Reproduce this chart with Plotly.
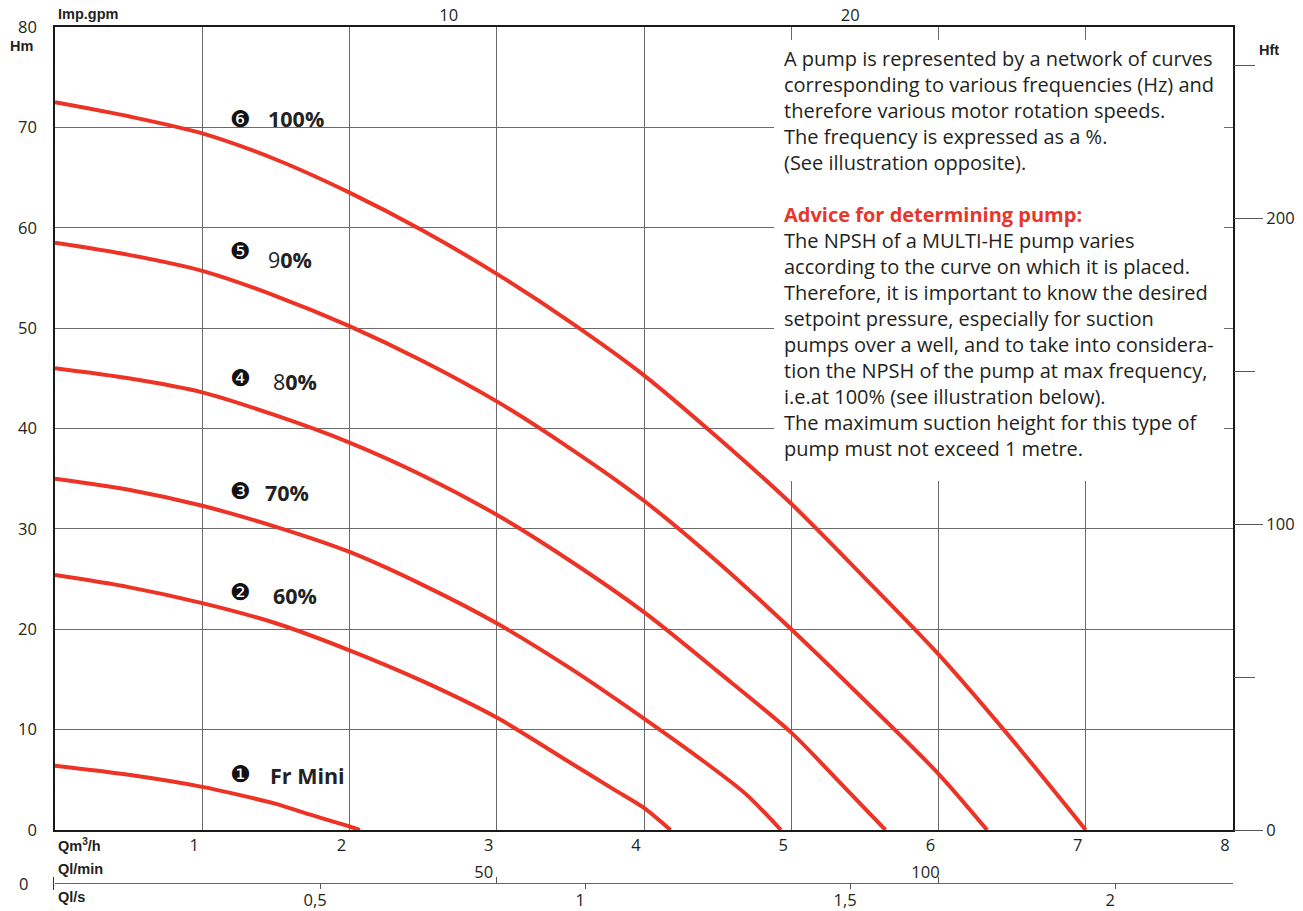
import plotly.graph_objects as go

# ---------------- data (flow in m3/h, head in m) ----------------
flow_fr_mini = [0, 0.5, 1.0, 1.25, 1.5, 1.75, 2.0, 2.07]
head_fr_mini = [6.4, 5.5, 4.3, 3.5, 2.6, 1.45, 0.35, 0.0]

flow_60 = [0, 0.5, 1.0, 1.5, 2.0, 2.5, 3.0, 3.5, 3.8, 4.0, 4.18]
head_60 = [25.4, 24.2, 22.6, 20.6, 17.9, 14.8, 11.2, 6.7, 4.0, 2.2, 0.0]

flow_70 = [0, 0.5, 1.0, 1.5, 2.0, 2.5, 3.0, 3.5, 4.0, 4.4, 4.69, 4.93]
head_70 = [35.0, 33.9, 32.3, 30.2, 27.7, 24.4, 20.6, 16.1, 11.1, 6.9, 3.6, 0.0]

flow_80 = [0, 0.5, 1.0, 1.5, 2.0, 2.5, 3.0, 3.5, 4.0, 4.5, 5.0, 5.3, 5.64]
head_80 = [46.0, 45.0, 43.6, 41.3, 38.6, 35.3, 31.4, 26.8, 21.7, 15.8, 9.7, 5.2, 0.0]

flow_90 = [0, 0.5, 1.0, 1.5, 2.0, 2.5, 3.0, 3.5, 4.0, 4.5, 5.0, 5.5, 6.0, 6.33]
head_90 = [58.5, 57.3, 55.7, 53.2, 50.2, 46.7, 42.7, 38.0, 32.8, 26.7, 20.0, 12.9, 5.6, 0.0]

flow_100 = [0, 0.5, 1.0, 1.5, 2.0, 2.5, 3.0, 3.5, 4.0, 4.5, 5.0, 5.5, 6.0, 6.5, 7.0]
head_100 = [72.5, 71.1, 69.4, 66.8, 63.5, 59.7, 55.4, 50.6, 45.3, 39.1, 32.5, 25.1, 17.5, 9.0, 0.0]

curve_badges = ["\u2776", "\u2777", "\u2778", "\u2779", "\u277a", "\u277b"]
curve_names = ["<b>Fr Mini</b>", "<b>60%</b>", "<b>70%</b>", "8<b>0%</b>", "9<b>0%</b>", "<b>100%</b>"]

q_m3h_ticks = [1, 2, 3, 4, 5, 6, 7, 8]
hm_ticks = [0, 10, 20, 30, 40, 50, 60, 70, 80]
gpm_ticks = [10, 20]
hft_ticks = [0, 100, 200]
hft_minor = [50, 150, 250]
qlmin_ticks = [50, 100]
qls_ticks = [0.5, 1, 1.5, 2]
qls_labels = ["0,5", "1", "1,5", "2"]

text_lines = [
    "A pump is represented by a network of curves",
    "corresponding to various frequencies (Hz) and",
    "therefore various motor rotation speeds.",
    "The frequency is expressed as a %.",
    "(See illustration opposite).",
    "&nbsp;",
    "<span style='color:#E8362A'><b>Advice for determining pump:</b></span>",
    "The NPSH of a MULTI-HE pump varies",
    "according to the curve on which it is placed.",
    "Therefore, it is important to know the desired",
    "setpoint pressure, especially for suction",
    "pumps over a well, and to take into considera-",
    "tion the NPSH of the pump at max frequency,",
    "i.e.at 100% (see illustration below).",
    "The maximum suction height for this type of",
    "pump must not exceed 1 metre.",
]

# unit conversions for the secondary scales
M3H_TO_GPM = 3.66615
M3H_TO_LMIN = 1000 / 60
M3H_TO_LS = 1 / 3.6
M_TO_FT = 3.28084
Q_MAX = 8
H_MAX = 80

# ---------------- layout geometry helpers (screen pixels) ----------------
W, H = 1303, 911
OFF = 8  # page body margin offset of the rendered figure
PL, PR, PT, PB = 55 - OFF, 1233 - OFF, 27 - OFF, 896 - OFF


def fx(px):
    return (px - OFF - PL) / (PR - PL)


def fy(py):
    return (PB - (py - OFF)) / (PB - PT)


RED = "#EC3325"
INK = "#231F20"
GRID = "#6a6a6a"
NUM_FONT = dict(family="Open Sans", size=16.5, color=INK)
LBL_FONT = dict(family="Liberation Sans", size=14.5, color=INK)

fig = go.Figure()

series = [
    (flow_fr_mini, head_fr_mini),
    (flow_60, head_60),
    (flow_70, head_70),
    (flow_80, head_80),
    (flow_90, head_90),
    (flow_100, head_100),
]
for fl, hd in series:
    fig.add_trace(go.Scatter(x=fl, y=hd, mode="lines",
                             line=dict(color=RED, width=4, shape="spline", smoothing=0.8),
                             showlegend=False, hoverinfo="skip"))

# invisible anchors for secondary axes
fig.add_trace(go.Scatter(x=[0], y=[0], xaxis="x2", yaxis="y", mode="markers",
                         marker=dict(opacity=0), showlegend=False, hoverinfo="skip"))
fig.add_trace(go.Scatter(x=[0], y=[0], xaxis="x", yaxis="y2", mode="markers",
                         marker=dict(opacity=0), showlegend=False, hoverinfo="skip"))
fig.add_trace(go.Scatter(x=[0], y=[0], xaxis="x3", yaxis="y", mode="markers",
                         marker=dict(opacity=0), showlegend=False, hoverinfo="skip"))
fig.add_trace(go.Scatter(x=[0], y=[0], xaxis="x4", yaxis="y", mode="markers",
                         marker=dict(opacity=0), showlegend=False, hoverinfo="skip"))

fig.update_layout(
    width=W, height=H,
    margin=dict(l=PL, r=W - PR, t=PT, b=H - PB, autoexpand=False),
    plot_bgcolor="white", paper_bgcolor="white",
    hovermode=False,
    xaxis=dict(range=[0, Q_MAX], domain=[0, 1], anchor="y", automargin=False,
               tickmode="array", tickvals=q_m3h_ticks,
               showgrid=True, gridcolor=GRID, gridwidth=1,
               showline=True, linecolor="#1a1a1a", linewidth=1.6, mirror=True,
               zeroline=False, ticks="", tickfont=NUM_FONT,
               ticklabelshift=-8, ticklabelstandoff=-1),
    yaxis=dict(range=[0, H_MAX], domain=[fy(830), 1], anchor="x", automargin=False,
               tickmode="array", tickvals=hm_ticks,
               showgrid=True, gridcolor=GRID, gridwidth=1,
               showline=True, linecolor="#1a1a1a", linewidth=1.6, mirror=True,
               zeroline=False, ticks="", tickfont=NUM_FONT,
               ticklabelstandoff=13),
    xaxis2=dict(range=[0, Q_MAX * M3H_TO_GPM], overlaying="x", side="top", anchor="y",
                automargin=False,
                tickmode="array", tickvals=gpm_ticks,
                showgrid=False, showline=False, zeroline=False, ticks="",
                tickfont=NUM_FONT, ticklabelshift=-8, ticklabelstandoff=2),
    yaxis2=dict(range=[0, H_MAX * M_TO_FT], overlaying="y", side="right", anchor="x",
                automargin=False,
                tickmode="array", tickvals=hft_ticks,
                ticks="outside", ticklen=29, tickcolor="#555", tickwidth=1,
                minor=dict(tickmode="array", tickvals=hft_minor, ticks="outside",
                           ticklen=21, tickcolor="#555", tickwidth=1, showgrid=False),
                showgrid=False, showline=False, zeroline=False,
                tickfont=NUM_FONT, ticklabelstandoff=0),
    xaxis3=dict(range=[0, Q_MAX * M3H_TO_LMIN], overlaying="x", anchor="free",
                position=fy(883), side="top", automargin=False,
                tickmode="array", tickvals=qlmin_ticks,
                ticks="outside", ticklen=6, tickcolor="#555", tickwidth=1,
                showgrid=False, showline=False, zeroline=False,
                tickfont=NUM_FONT, ticklabelshift=-13, ticklabelstandoff=-8),
    xaxis4=dict(range=[0, Q_MAX * M3H_TO_LS], overlaying="x", anchor="free",
                position=fy(883), side="bottom", automargin=False,
                tickmode="array", tickvals=qls_ticks, ticktext=qls_labels,
                ticks="outside", ticklen=5, tickcolor="#555", tickwidth=1,
                showgrid=False, showline=True, linecolor="#666", linewidth=1.2,
                zeroline=False, tickfont=NUM_FONT,
                ticklabelshift=-5, ticklabelstandoff=-3),
)

# white text panel covering the grid
fig.add_shape(type="rect", xref="paper", yref="paper",
              x0=fx(774), x1=fx(1224), y0=fy(481), y1=fy(40),
              fillcolor="white", line=dict(width=0), layer="above")

# zero tick at start of the flow-unit line
fig.add_shape(type="line", xref="paper", yref="paper",
              x0=fx(53.5), x1=fx(53.5), y0=fy(877), y1=fy(890),
              line=dict(color="#333", width=1))

annotations = []


def ann(text, px, py, font, xanchor="center", yanchor="middle", align="center"):
    annotations.append(dict(text=text, x=fx(px), y=fy(py), xref="paper", yref="paper",
                            showarrow=False, font=font, xanchor=xanchor,
                            yanchor=yanchor, align=align))


# axis captions
ann("<b>Imp.gpm</b>", 56, 14, LBL_FONT, xanchor="left")
ann("<b>Hm</b>", 21, 46, LBL_FONT)
ann("<b>Hft</b>", 1269, 50, LBL_FONT)
ann("<b>Qm<sup>3</sup>/h</b>", 56, 845, LBL_FONT, xanchor="left")
ann("<b>Ql/min</b>", 56, 869, LBL_FONT, xanchor="left")
ann("<b>Ql/s</b>", 56, 897, LBL_FONT, xanchor="left")
ann("0", 23, 883, NUM_FONT)

# curve labels
badge_y = [774, 592, 491, 378, 251, 119]
name_x = [268, 271, 263, 271, 266, 266]
name_y = [775, 595, 492, 381, 260, 118]
for b, nm, by, nx, ny in zip(curve_badges, curve_names, badge_y, name_x, name_y):
    ann(b, 240, by, dict(family="DejaVu Sans", size=23, color="#111"))
    ann(nm, nx, ny, dict(family="Open Sans", size=21.5, color="#222"), xanchor="left")

# explanatory text
ann("<br>".join(text_lines), 782, 254, dict(family="Open Sans", size=20, color=INK),
    xanchor="left", align="left")

fig.update_layout(annotations=annotations)

fig.write_html("out.html")
